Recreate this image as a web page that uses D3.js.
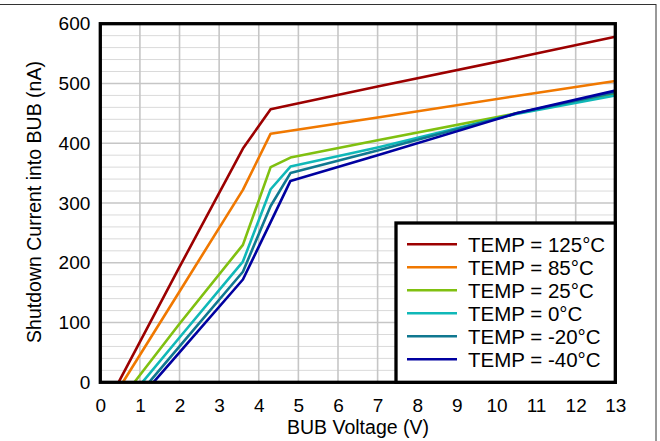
<!DOCTYPE html>
<html>
<head>
<meta charset="utf-8">
<script src="https://cdn.jsdelivr.net/npm/d3@7"></script>
<style>
  body { margin: 0; background: #fff; }
  svg { display: block; font-family: "Liberation Sans", Arial, sans-serif; }
</style>
</head>
<body>
<svg id="chart" width="660" height="441"></svg>
<script>
// series labels and their start-of-conduction voltage (current = 0)
const labels = ["TEMP = 125°C", "TEMP = 85°C", "TEMP = 25°C", "TEMP = 0°C", "TEMP = -20°C", "TEMP = -40°C"];
const startV = [0.46, 0.57, 0.86, 1.06, 1.23, 1.34];
const readV = [2, 3.6, 4.3, 4.8, 7, 10.5, 13];
const cur125 = [193, 391, 457, 464, 495, 543, 578];
const cur85 = [152, 322, 416, 421, 443, 479, 504];
const cur25 = [98, 230, 360, 376, 405, 450, 483];
const cur0 = [75, 202, 323, 361, 393, 449, 480];
const curM20 = [60, 185, 295, 350, 388, 450, 485];
const curM40 = [50, 172, 268, 337, 380, 450, 488];
const currents = [cur125, cur85, cur25, cur0, curM20, curM40];
const xTicks = d3.range(0, 14);
const yTicks = [0, 100, 200, 300, 400, 500, 600];

const colors = ["#9c0000", "#f07800", "#80c010", "#10b8b8", "#107890", "#0000a0"];

const svg = d3.select("#chart");
const pl = 100.3, pr = 615.3, pt = 23.7, pb = 382.3;

const x = d3.scaleLinear().domain([0, 13]).range([pl, pr]);
const y = d3.scaleLinear().domain([0, 600]).range([pb, pt]);

// outer frame
svg.append("rect")
  .attr("x", -2).attr("y", 4.5)
  .attr("width", 658).attr("height", 450)
  .attr("fill", "none").attr("stroke", "#333").attr("stroke-width", 1);

// minor horizontal grid every 20 nA
svg.append("g")
  .selectAll("line")
  .data(d3.range(20, 600, 20).filter(v => v % 100 !== 0))
  .join("line")
  .attr("x1", pl).attr("x2", pr)
  .attr("y1", d => y(d)).attr("y2", d => y(d))
  .attr("stroke", "#dadada").attr("stroke-width", 1);

// major grid
svg.append("g")
  .selectAll("line")
  .data(yTicks)
  .join("line")
  .attr("x1", pl).attr("x2", pr)
  .attr("y1", d => y(d)).attr("y2", d => y(d))
  .attr("stroke", "#c6c6c6").attr("stroke-width", 1.6);

svg.append("g")
  .selectAll("line")
  .data(xTicks)
  .join("line")
  .attr("x1", d => x(d)).attr("x2", d => x(d))
  .attr("y1", pt).attr("y2", pb)
  .attr("stroke", "#c6c6c6").attr("stroke-width", 1.6);

// curves
const line = d3.line().x(d => x(d[0])).y(d => y(d[1]));
currents.forEach((c, i) => {
  const pts = [[startV[i], 0]].concat(readV.map((v, j) => [v, c[j]]));
  svg.append("path")
    .datum(pts)
    .attr("d", line)
    .attr("fill", "none")
    .attr("stroke", colors[i])
    .attr("stroke-width", 2.6)
    .attr("stroke-linejoin", "round");
});

// plot frame
svg.append("rect")
  .attr("x", pl).attr("y", pt)
  .attr("width", pr - pl).attr("height", pb - pt)
  .attr("fill", "none").attr("stroke", "#000").attr("stroke-width", 3.3);

// axes (labels only)
const xAxis = svg.append("g")
  .attr("transform", `translate(0,${pb})`)
  .call(d3.axisBottom(x).tickValues(xTicks).tickSize(0).tickPadding(16).tickFormat(d3.format("d")));
xAxis.select(".domain").remove();
xAxis.selectAll("text").attr("font-size", 19).attr("fill", "#000").attr("font-family", null);

const yAxis = svg.append("g")
  .attr("transform", `translate(${pl},0)`)
  .call(d3.axisLeft(y).tickValues(yTicks).tickSize(0).tickPadding(10).tickFormat(d3.format("d")));
yAxis.select(".domain").remove();
yAxis.selectAll("text").attr("font-size", 19).attr("fill", "#000").attr("font-family", null);

// axis titles
svg.append("text")
  .attr("x", 358).attr("y", 434)
  .attr("text-anchor", "middle")
  .attr("font-size", 19.5)
  .text("BUB Voltage (V)");

svg.append("text")
  .attr("transform", "translate(41,202) rotate(-90)")
  .attr("text-anchor", "middle")
  .attr("font-size", 19.5)
  .text("Shutdown Current into BUB (nA)");

// legend
const lg = svg.append("g");
lg.append("rect")
  .attr("x", 396).attr("y", 223)
  .attr("width", pr - 396).attr("height", pb - 223)
  .attr("fill", "#fff").attr("stroke", "#000").attr("stroke-width", 3.3);

const rows = lg.selectAll("g.row")
  .data(labels)
  .join("g")
  .attr("class", "row")
  .attr("transform", (d, i) => `translate(0,${244.3 + i * 23})`);

rows.append("line")
  .attr("x1", 407).attr("x2", 457)
  .attr("stroke", (d, i) => colors[i])
  .attr("stroke-width", 2.6);

rows.append("text")
  .attr("x", 468)
  .attr("dy", "0.36em")
  .attr("font-size", 20.5)
  .text(d => d);
</script>
</body>
</html>
